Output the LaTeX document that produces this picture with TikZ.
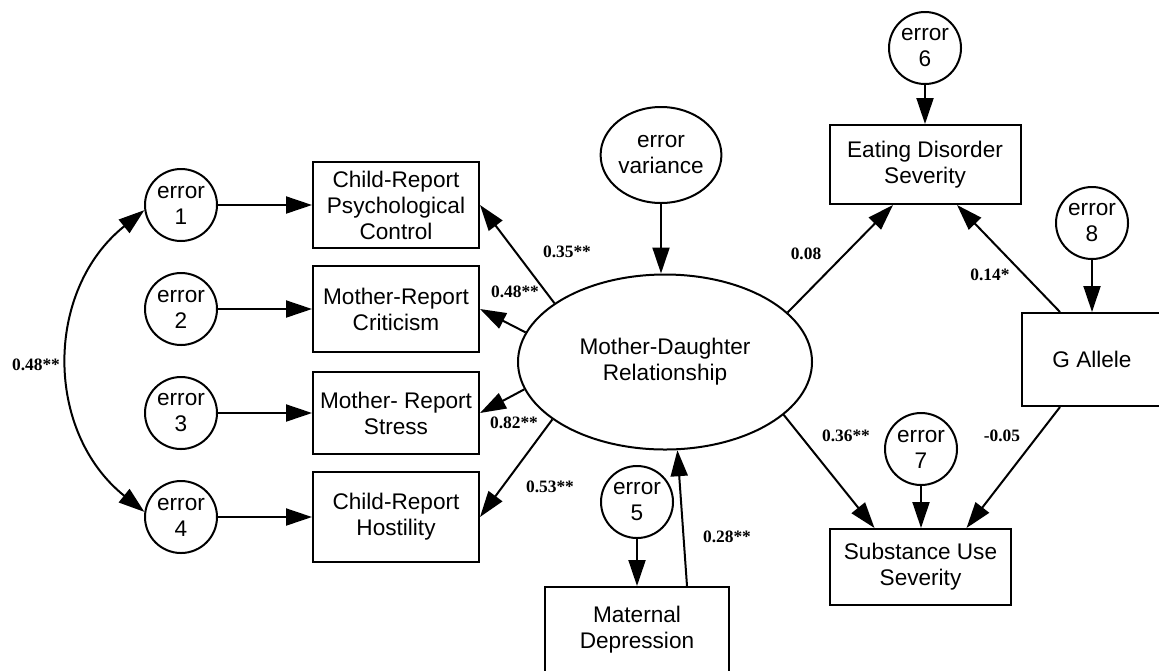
\documentclass[tikz,border=0pt]{standalone}
\usepackage{fontspec}
\setmainfont{Liberation Sans}
\newfontfamily\coeffont{Liberation Serif}
\usetikzlibrary{positioning, arrows.meta, shapes.geometric}

\begin{document}
\begin{tikzpicture}[x=0.5pt, y=-0.5pt, line width=1pt,
  every node/.style={font=\fontsize{11.3}{13}\selectfont, align=center},
  errc/.style={draw, circle, minimum size=36pt, inner sep=0pt},
  obs/.style={draw, rectangle, inner sep=0pt},
  ind/.style={obs, minimum width=83pt, minimum height=43pt},
  coef/.style={font=\coeffont\bfseries\fontsize{8.7}{10}\selectfont},
  arr/.style={-{Triangle[length=13pt, width=8.5pt]}},
  ]

\useasboundingbox (0,0) rectangle (1159,670);

% Error terms of the indicators
\node[errc] (e1) at (181,205) {error\\1};
\node[errc] (e2) at (181,309) {error\\2};
\node[errc] (e3) at (181,413) {error\\3};
\node[errc] (e4) at (181,517) {error\\4};

% Indicators
\node[ind] (b1) at (396,205) {Child-Report\\Psychological\\Control};
\node[ind] (b2) at (396,309) {Mother-Report\\Criticism};
\node[ind, minimum height=41pt] (b3) at (396,413) {Mother- Report\\Stress};
\node[ind, minimum height=45pt] (b4) at (396,517) {Child-Report\\Hostility};

% Latent variable
\node[draw, ellipse, minimum width=147pt, minimum height=87.5pt, inner sep=0pt] (mdr) at (665,362) {Mother-Daughter\\Relationship};
\node[draw, ellipse, minimum width=56pt, minimum height=48pt, inner sep=0pt] (ev) at (661,155) {error\\variance};

% Predictor
\node[errc] (e5) at (637,502) {error\\5};
\node[obs, minimum width=92pt, minimum height=43pt] (mat) at (637,630) {Maternal\\Depression};

% Outcomes
\node[errc] (e6) at (925,48) {error\\6};
\node[obs, minimum width=95.5pt, minimum height=39.5pt] (eds) at (925,164.5) {Eating Disorder\\Severity};
\node[errc] (e8) at (1092,223) {error\\8};
\node[obs, minimum width=70pt, minimum height=46.5pt] (ga) at (1092,359.5) {G Allele};
\node[errc] (e7) at (921,449) {error\\7};
\node[obs, minimum width=90.5pt, minimum height=38pt] (sus) at (920.5,567) {Substance Use\\Severity};

% Paths
\draw[arr] (e1) -- (b1);
\draw[arr] (e2) -- (b2);
\draw[arr] (e3) -- (b3);
\draw[arr] (e4) -- (b4);
\draw[arr] (mdr.152) -- (b1.east);
\draw[arr] (mdr.168) -- (b2.east);
\draw[arr] (mdr.191) -- (b3.east);
\draw[arr] (mdr.207) -- (b4.east);
\draw[arr] (ev) -- (ev |- mdr.north);
\draw[arr] (e5) -- (e5 |- mat.north);
\draw[arr] ([xshift=25pt]mat.north) -- (mdr.278);
\draw[arr] (e6) -- (eds);
\draw[arr] (e8) -- (ga);
\draw[arr] (e7) -- (e7 |- sus.north);
\draw[arr] (mdr.22) -- ([xshift=-16pt]eds.south);
\draw[arr] ([xshift=-16pt]ga.north) -- ([xshift=16pt]eds.south);
\draw[arr] (mdr.336) -- ([xshift=-23pt]sus.north);
\draw[arr] ([xshift=-16pt]ga.south) -- ([xshift=23pt]sus.north);

% Covariance
\draw[{Triangle[length=13pt, width=8.5pt]}-{Triangle[length=13pt, width=8.5pt]}]
  (e1.188) .. controls +(-100,80) and +(-100,-80) .. (e4.172);

% Coefficients
\node[coef] (c0) at (36,365) {0.48**};
\node[coef] (c1) at (567,252) {0.35**};
\node[coef] (c2) at (515,292) {0.48**};
\node[coef] (c3) at (514,423) {0.82**};
\node[coef] (c4) at (550,487) {0.53**};
\node[coef] (c5) at (727,537) {0.28**};
\node[coef] (c6) at (806,254) {0.08};
\node[coef] (c7) at (990,275) {0.14*};
\node[coef] (c8) at (846,436) {0.36**};
\node[coef] (c9) at (1002,436) {-0.05};

\end{tikzpicture}
\end{document}
